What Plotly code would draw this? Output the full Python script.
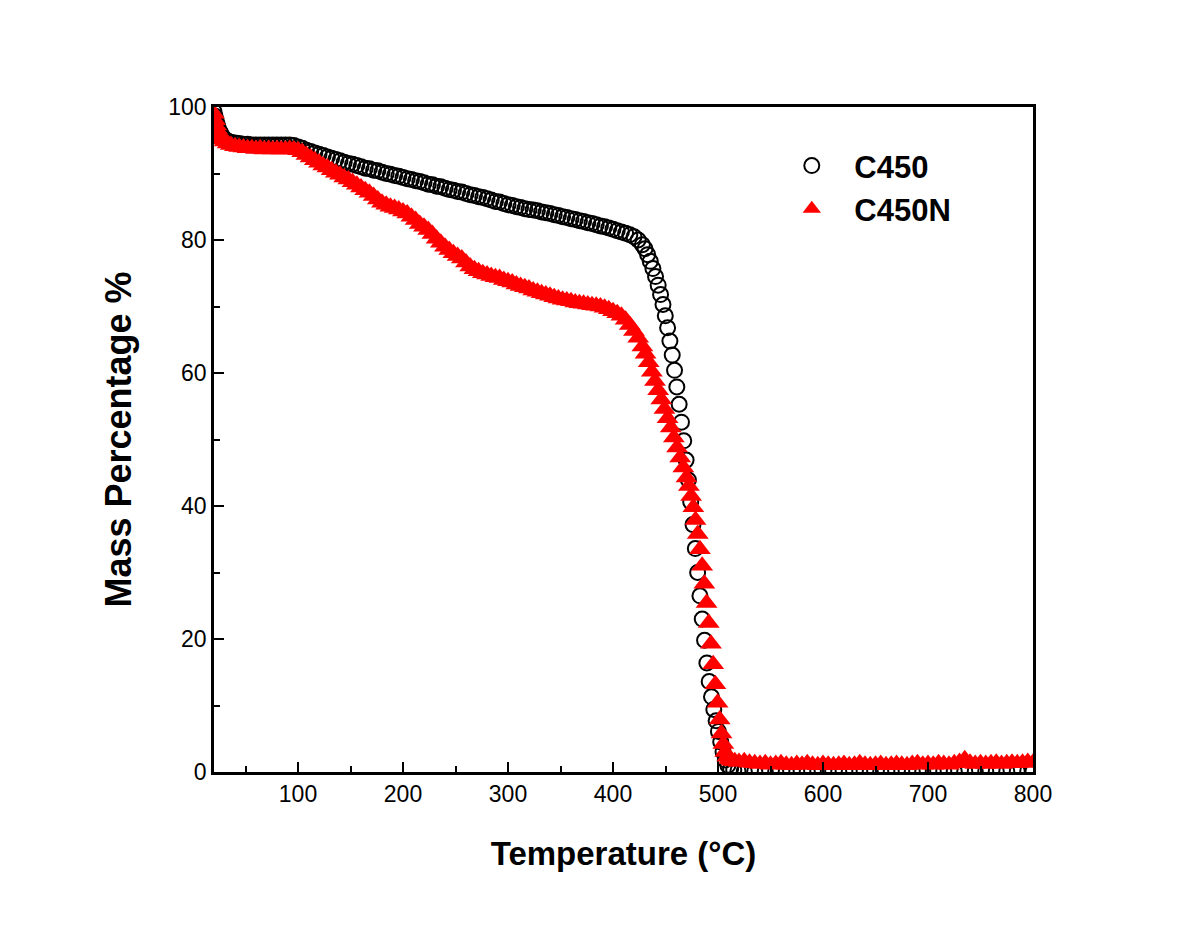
import plotly.graph_objects as go

# ---------------- data ----------------
temp_c450 = [
    20, 21, 22, 23, 24, 26, 28, 30, 33, 36,
    40, 44, 48, 52, 56, 60, 64, 68, 72, 76, 80, 84, 88, 92, 96,
    100, 104, 108, 112, 116, 120, 124, 128, 132, 136, 140, 144, 148, 152, 156,
    160, 164, 168, 172, 176, 180, 184, 188, 192, 196, 200, 204, 208, 212, 216,
    220, 224, 228, 232, 236, 240, 244, 248, 252, 256, 260, 264, 268, 272, 276,
    280, 284, 288, 292, 296, 300, 304, 308, 312, 316, 320, 324, 328, 332, 336,
    340, 344, 348, 352, 356, 360, 364, 368, 372, 376, 380, 384, 388, 392, 396,
    400, 404, 408, 412, 416, 420, 424, 428,
    430.5, 433, 435.5, 438, 440.5, 443, 445.3, 447.6, 449.8, 452,
    454.2, 456.4, 458.6, 460.8, 463, 465.2, 467.4, 469.6, 471.8, 474.0,
    476.2, 478.4, 480.6, 482.8, 485.0, 487.2, 489.4, 491.6, 493.8, 496.0,
    498.2, 500.4, 502.6, 504.8, 507.0, 509.4, 512, 515, 519, 525,
    535, 545, 555, 565, 575, 585, 595, 605, 615, 625, 635, 645, 655, 665,
    675, 685, 695, 705, 715, 725, 735, 745, 755, 765, 775, 785, 795, 800,
]
mass_c450 = [
    99.3, 98.6, 98.0, 97.4, 96.9, 96.2, 95.6, 95.2, 94.9, 94.7,
    94.6, 94.5, 94.4, 94.4, 94.3, 94.3, 94.3, 94.3, 94.3, 94.3, 94.3, 94.3, 94.3, 94.3, 94.2,
    94.0, 93.8, 93.5, 93.3, 93.1, 92.9, 92.7, 92.5, 92.3, 92.1, 91.9, 91.7, 91.5, 91.4, 91.2,
    91.0, 90.8, 90.7, 90.5, 90.4, 90.2, 90.0, 89.9, 89.7, 89.6, 89.4, 89.2, 89.1, 88.9, 88.8,
    88.6, 88.4, 88.3, 88.1, 88.0, 87.8, 87.6, 87.5, 87.3, 87.2, 87.0, 86.8, 86.7, 86.5, 86.4,
    86.2, 86.0, 85.8, 85.7, 85.5, 85.3, 85.2, 85.0, 84.9, 84.7, 84.6, 84.5, 84.4, 84.2, 84.1,
    84.0, 83.8, 83.7, 83.5, 83.4, 83.2, 83.1, 82.9, 82.8, 82.6, 82.5, 82.3, 82.1, 82.0, 81.8,
    81.6, 81.4, 81.2, 81.0, 80.8, 80.5, 80.0, 79.3,
    78.7, 77.8, 76.8, 75.7, 74.5, 73.2, 71.8, 70.3, 68.6, 66.8,
    64.8, 62.7, 60.4, 57.9, 55.3, 52.6, 49.8, 46.9, 43.9, 40.6,
    37.2, 33.6, 30.0, 26.5, 23.0, 19.8, 16.4, 13.6, 11.3, 9.4,
    7.7, 6.1, 4.5, 3.0, 1.8, 1.0, 0.5, 0.3, 0.2, 0.1,
    0.1, 0.1, 0.2, 0.1, 0.1, 0.1, 0.2, 0.1, 0.1, 0.1, 0.2, 0.1, 0.1, 0.1,
    0.2, 0.1, 0.1, 0.1, 0.2, 0.1, 0.1, 0.1, 0.2, 0.1, 0.1, 0.1, 0.2, 0.1,
]

temp_c450n = [
    20, 21, 22, 23, 24, 26, 28, 30, 33, 36,
    40, 44, 48, 52, 56, 60, 64, 68, 72, 76, 80, 84, 88, 92, 96,
    100, 104, 108, 112, 116, 120, 124, 128, 132, 136, 140, 144, 148, 152, 156,
    160, 164, 168, 172, 176, 180, 184, 188, 192, 196, 200, 204, 208, 212, 216,
    220, 224, 228, 232, 236, 240, 244, 248, 252, 256, 260, 264, 268, 272, 276,
    280, 284, 288, 292, 296, 300, 304, 308, 312, 316, 320, 324, 328, 332, 336,
    340, 344, 348, 352, 356, 360, 364, 368, 372, 376, 380, 384, 388, 392, 396,
    400, 404, 408, 412, 416, 420, 424, 428,
    431, 434, 437, 440, 443, 446, 449, 452, 455, 458, 461, 464, 467, 470,
    472.3, 474.4, 476.5, 478.6, 480.7, 482.8, 484.9, 487.0, 489.1, 491.2,
    493.3, 495.4, 497.5, 499.6, 501.6, 503.4, 505.1, 506.9, 508.8, 510.8,
    513, 516, 520,
    525, 530, 535, 540, 545, 550, 555, 560, 565, 570, 575, 580, 585, 590,
    595, 600, 605, 610, 615, 620, 625, 630, 635, 640, 645, 650, 655, 660,
    665, 670, 675, 680, 685, 690, 695, 700, 705, 710, 715, 720, 725, 730,
    735, 740, 745, 750, 755, 760, 765, 770, 775, 780, 785, 790, 795, 800,
]
mass_c450n = [
    99.0, 98.0, 97.2, 96.6, 96.1, 95.5, 95.1, 94.8, 94.5, 94.3,
    94.1, 94.0, 93.9, 93.8, 93.8, 93.7, 93.8, 93.6, 93.7, 93.6, 93.7, 93.6, 93.6, 93.7, 93.6,
    93.5, 93.2, 92.8, 92.4, 92.0, 91.6, 91.2, 90.9, 90.5, 90.1, 89.8, 89.4, 89.1, 88.7, 88.3,
    87.9, 87.5, 87.1, 86.6, 86.1, 85.6, 85.3, 85.0, 84.8, 84.6, 84.3, 84.0, 83.5, 83.0, 82.4,
    82.0, 81.5, 80.9, 80.2, 79.6, 79.0, 78.5, 78.0, 77.6, 77.2, 76.6, 76.0, 75.6, 75.3, 75.0,
    74.8, 74.6, 74.4, 74.3, 74.0, 73.8, 73.6, 73.3, 73.1, 72.9, 72.7, 72.4, 72.2, 72.0, 71.8,
    71.6, 71.4, 71.2, 71.0, 70.9, 70.8, 70.6, 70.5, 70.4, 70.3, 70.2, 70.1, 70.0, 69.8, 69.6,
    69.3, 69.0, 68.6, 68.0, 67.2, 66.3, 65.3, 64.0,
    62.9, 61.6, 60.2, 58.8, 57.4, 56.0, 54.6, 53.2, 51.8, 50.3, 48.8, 47.3, 45.8, 44.3,
    43.0, 41.5, 39.8, 37.9, 35.8, 33.5, 31.0, 28.3, 25.4, 22.4,
    19.3, 16.2, 13.2, 10.4, 7.9, 5.8, 4.2, 3.0, 2.3, 1.9,
    1.7, 1.6, 1.5,
    1.6, 1.4, 1.3, 1.2, 1.3, 1.1, 1.2, 1.3, 1.1, 1.0, 1.2, 1.1, 1.3, 1.1,
    1.0, 1.2, 1.1, 1.0, 1.1, 1.2, 1.0, 1.1, 1.3, 1.1, 1.0, 1.1, 1.2, 1.0,
    1.1, 1.2, 1.1, 1.0, 1.2, 1.3, 1.1, 1.2, 1.1, 1.3, 1.2, 1.1, 1.3, 1.5,
    1.9, 1.4, 1.2, 1.3, 1.2, 1.3, 1.4, 1.2, 1.3, 1.4, 1.3, 1.4, 1.5, 1.4,
]

series_names = ["C450", "C450N"]
x_range = [20, 800]
y_range = [0, 100]
x_title = "Temperature (°C)"
y_title = "Mass Percentage %"

# ---------------- figure ----------------
FONT = "Arial, 'Liberation Sans', Helvetica, sans-serif"

fig = go.Figure()
fig.add_trace(go.Scatter(
    x=temp_c450, y=mass_c450, mode="markers", name=series_names[0],
    marker=dict(symbol="circle-open", size=15, color="black",
                line=dict(width=2, color="black")),
))
fig.add_trace(go.Scatter(
    x=temp_c450n, y=mass_c450n, mode="markers", name=series_names[1],
    marker=dict(symbol="triangle-up", size=19, color="#ff0000",
                line=dict(width=0)),
))

axis_common = dict(
    showgrid=False, zeroline=False, showline=True, linecolor="black",
    linewidth=2.5, mirror=True, ticks="inside", tickcolor="black",
    tickwidth=2, ticklen=10, tickfont=dict(family=FONT, size=23, color="black"),
)

fig.update_xaxes(
    range=x_range, tickmode="linear", tick0=0, dtick=100,
    minor=dict(ticks="inside", ticklen=6, tickwidth=2, tickcolor="black",
               tick0=0, dtick=50),
    title=dict(text="<b>" + x_title + "</b>",
               font=dict(family=FONT, size=33, color="black"), standoff=36),
    **axis_common,
)
fig.update_yaxes(
    range=y_range, tickmode="linear", tick0=0, dtick=20,
    minor=dict(ticks="inside", ticklen=6, tickwidth=2, tickcolor="black",
               tick0=0, dtick=10),
    title=dict(text="<b>" + y_title + "</b>",
               font=dict(family=FONT, size=36, color="black"), standoff=26),
    **axis_common,
)

fig.update_layout(
    width=1200, height=927,
    margin=dict(l=206, r=175, t=99, b=163, autoexpand=False),
    paper_bgcolor="white", plot_bgcolor="white",
    showlegend=True,
    legend=dict(
        x=0.678, y=0.952, xanchor="left", yanchor="top",
        bgcolor="rgba(0,0,0,0)", borderwidth=0, itemwidth=75,
        font=dict(family=FONT, size=31, color="black", weight="bold"),
        tracegroupgap=0,
    ),
    font=dict(family=FONT, color="black"),
)

fig.write_html("out.html")
